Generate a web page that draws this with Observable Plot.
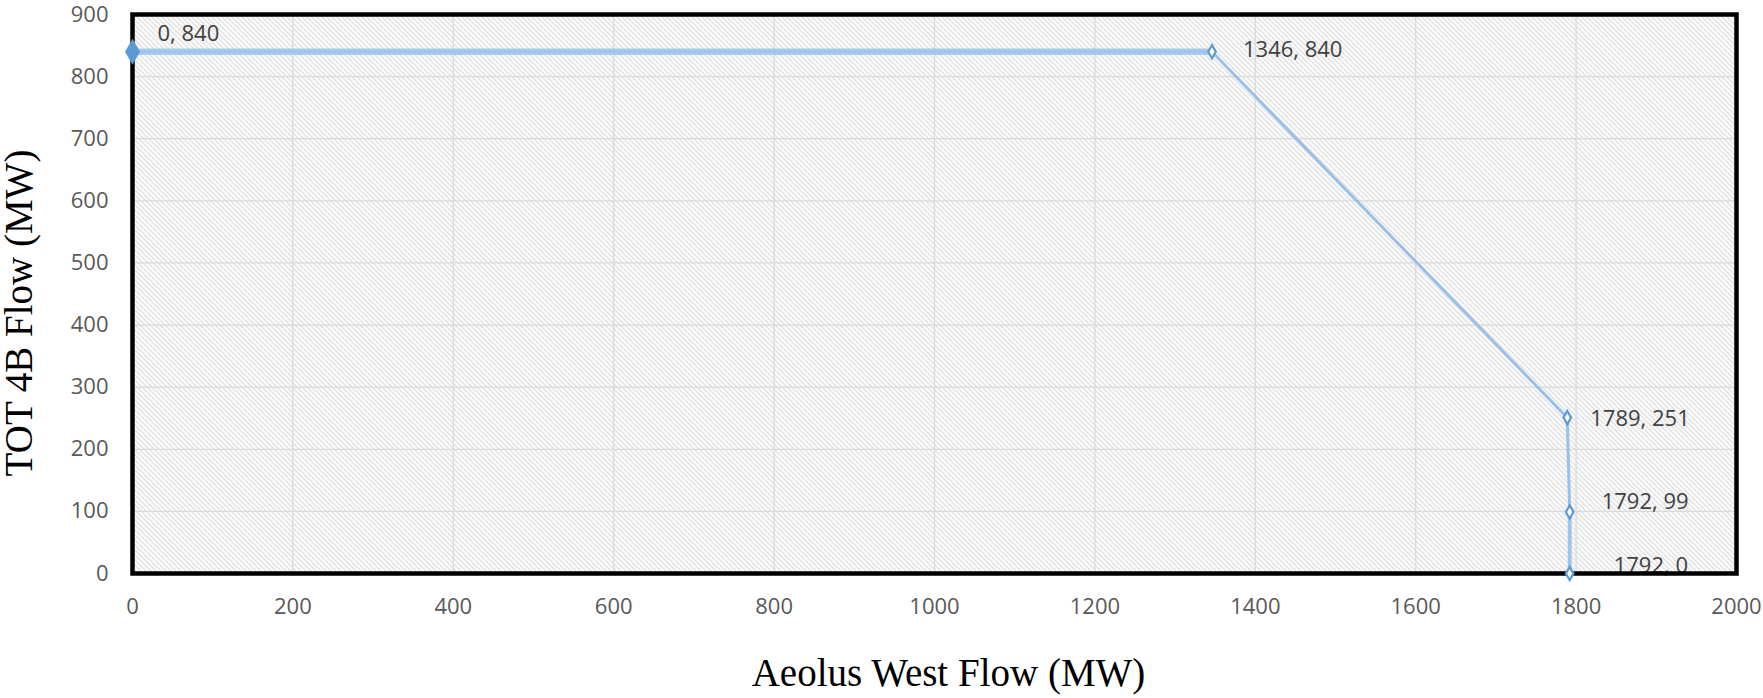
<!DOCTYPE html>
<html>
<head>
<meta charset="utf-8">
<script src="https://cdn.jsdelivr.net/npm/d3@7"></script>
<script src="https://cdn.jsdelivr.net/npm/@observablehq/plot@0.6"></script>
<style>
  html, body { margin: 0; padding: 0; background: #fff; }
  #chart svg { display: block; }
</style>
</head>
<body>
<div id="chart"></div>
<script>
// ---- data ----
const aeolusWest = [0, 1346, 1789, 1792, 1792];
const tot4b = [840, 840, 251, 99, 0];
const pointLabels = ["0, 840", "1346, 840", "1789, 251", "1792, 99", "1792, 0"];
const xTicks = [0, 200, 400, 600, 800, 1000, 1200, 1400, 1600, 1800, 2000];
const yTicks = [0, 100, 200, 300, 400, 500, 600, 700, 800, 900];
const xTitle = "Aeolus West Flow (MW)";
const yTitle = "TOT 4B Flow (MW)";

const pts = aeolusWest.map((x, i) => ({x, y: tot4b[i], label: pointLabels[i]}));

const tickFont = "'Open Sans', 'Noto Sans', sans-serif";
const serif = "'Liberation Serif', 'DejaVu Serif', serif";
const blue = "#5b9bd5";

// label offsets per point (style only)
const offs = [[25, -18], [31, -2], [23, 1], [32, -10], [44, -8]];

const chart = Plot.plot({
  width: 1763,
  height: 698,
  marginLeft: 132,
  marginRight: 27,
  marginTop: 14,
  marginBottom: 125,
  style: {background: "#fff", fontFamily: tickFont},
  x: {domain: [0, 2000], ticks: xTicks, label: null, tickFormat: d => String(d)},
  y: {domain: [0, 900], ticks: yTicks, label: null, tickFormat: d => String(d)},
  marks: [
    Plot.frame({fill: "url(#hatch)", stroke: null}),
    Plot.gridX(xTicks, {stroke: "#dadada", strokeOpacity: 1, strokeWidth: 1.3}),
    Plot.gridY(yTicks, {stroke: "#dadada", strokeOpacity: 1, strokeWidth: 1.3}),
    Plot.axisX(xTicks, {tickSize: 0, tickPadding: 25, fontSize: 22, fill: "#595959", label: null, tickFormat: d => String(d)}),
    Plot.axisY(yTicks, {tickSize: 0, tickPadding: 24, fontSize: 22, fill: "#595959", label: null, tickFormat: d => String(d)}),
    // labels (drawn under the frame border)
    ...pts.map((p, i) => Plot.text([p], {
      x: "x", y: "y", text: "label", textAnchor: "start",
      dx: offs[i][0], dy: offs[i][1], fontSize: 22, fill: "#404040", fontFamily: tickFont
    })),
    Plot.frame({stroke: "#000", strokeWidth: 4.5}),
    // lines
    Plot.line(pts, {x: "x", y: "y", stroke: "#8fbbe6", strokeWidth: 3, strokeOpacity: 0.9}),
    Plot.line(pts.slice(0, 2), {x: "x", y: "y", stroke: "#9fc5ec", strokeWidth: 6.5, strokeOpacity: 0.85}),
    Plot.line(pts.slice(3, 5), {x: "x", y: "y", stroke: "#9fc5ec", strokeWidth: 4, strokeOpacity: 0.85}),
    // markers
    Plot.dot(pts.slice(0, 1), {x: "x", y: "y", symbol: "diamond", r: 7, fill: blue, stroke: blue}),
    Plot.dot(pts.slice(1), {x: "x", y: "y", symbol: "diamond", r: 4, fill: "#fff", stroke: blue, strokeWidth: 2.2}),
    // axis titles
    Plot.text([xTitle], {text: d => d, frameAnchor: "bottom", lineAnchor: "middle", textAnchor: "middle", dx: 14, dy: 100, fontSize: 39, fontFamily: serif, fill: "#000", ariaLabel: "xtitle"}),
    Plot.text([yTitle], {text: d => d, frameAnchor: "left", lineAnchor: "middle", textAnchor: "middle", dx: -113, dy: 19, rotate: -90, fontSize: 39, fontFamily: serif, fill: "#000", ariaLabel: "ytitle"})
  ]
});

// defs: hatch pattern + title shadow
const ns = "http://www.w3.org/2000/svg";
const defs = document.createElementNS(ns, "defs");
defs.innerHTML = `
  <pattern id="hatch" patternUnits="userSpaceOnUse" width="5" height="5">
    <rect width="5" height="5" fill="#ffffff"/>
    <path d="M-1,-1 L6,6 M-1,4 L1,6 M4,-1 L6,1" stroke="#d2d2d2" stroke-width="1.1"/>
  </pattern>
  <filter id="shadow" x="-10%" y="-30%" width="120%" height="160%">
    <feDropShadow dx="2" dy="2" stdDeviation="1.5" flood-color="#000" flood-opacity="0.35"/>
  </filter>`;
chart.insertBefore(defs, chart.firstChild);
chart.querySelectorAll('g[aria-label="xtitle"], g[aria-label="ytitle"]').forEach(g => g.setAttribute("filter", "url(#shadow)"));

document.getElementById("chart").appendChild(chart);
</script>
</body>
</html>
